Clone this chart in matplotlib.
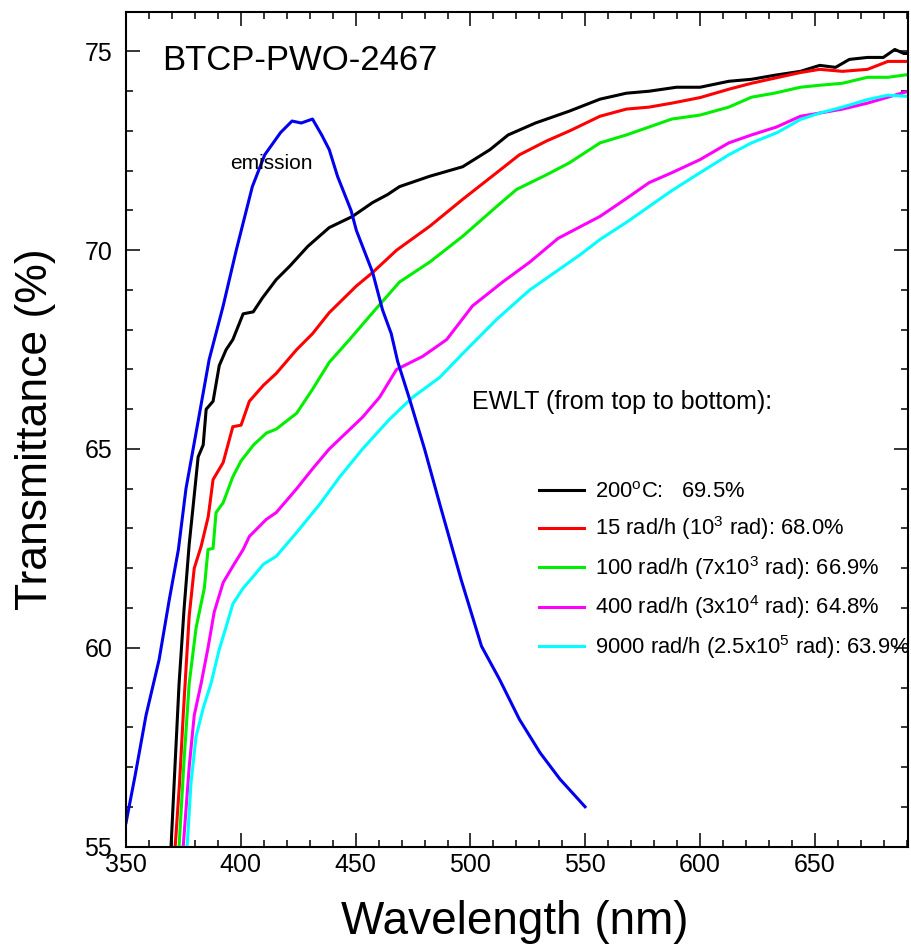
import matplotlib
matplotlib.use('Agg')
import matplotlib.pyplot as plt
from matplotlib.ticker import MultipleLocator

plt.rcParams['font.family'] = ['Liberation Sans', 'DejaVu Sans']
plt.rcParams['mathtext.fontset'] = 'custom'
plt.rcParams['mathtext.rm'] = 'Liberation Sans'
plt.rcParams['mathtext.it'] = 'Liberation Sans:italic'

# transmittance curves
wl_200c = [369.6, 371.3, 373.1, 375.3, 377.5, 379.2, 381.4, 383.6, 384.9, 387.9, 390.6, 393.6, 396.5,
           401.0, 405.4, 409.4, 415.4, 421.3, 429.2, 438.5, 448.6, 457.4, 463.9, 469.1, 482.2, 496.6,
           508.5, 516.4, 528.3, 543.1, 556.4, 567.9, 577.8, 589.7, 600.0, 612.5, 622.4, 632.3, 643.7,
           652.1, 659.0, 665.0, 672.9, 679.8, 684.8, 688.7, 690.7]
tr_200c = [55.0, 57.0, 59.1, 61.0, 62.6, 63.55, 64.8, 65.1, 66.0, 66.2, 67.1, 67.5, 67.75,
           68.4, 68.45, 68.8, 69.26, 69.6, 70.1, 70.57, 70.85, 71.2, 71.4, 71.6, 71.86, 72.1,
           72.53, 72.9, 73.2, 73.5, 73.8, 73.95, 74.0, 74.1, 74.1, 74.25, 74.3, 74.4, 74.5,
           74.65, 74.6, 74.8, 74.85, 74.85, 75.05, 74.95, 74.95]

wl_15 = [371.4, 373.3, 374.9, 377.5, 379.7, 382.7, 385.8, 387.9, 392.3, 396.5, 400.1, 403.7, 409.8,
         415.4, 424.3, 431.2, 438.5, 450.3, 457.4, 467.8, 482.2, 496.6, 511.4, 521.3, 533.2, 543.1,
         556.4, 567.9, 577.8, 587.7, 600.0, 612.5, 622.4, 630.2, 643.7, 652.1, 662.0, 672.9, 681.8, 690.7]
tr_15 = [55.0, 56.6, 58.3, 60.8, 62.0, 62.55, 63.3, 64.23, 64.66, 65.56, 65.6, 66.2, 66.6,
         66.9, 67.5, 67.9, 68.43, 69.1, 69.44, 70.0, 70.6, 71.28, 71.95, 72.4, 72.75, 73.0,
         73.37, 73.55, 73.6, 73.7, 73.84, 74.05, 74.2, 74.3, 74.47, 74.55, 74.5, 74.55, 74.75, 74.75]

wl_100 = [373.1, 375.3, 377.5, 380.5, 384.1, 385.7, 387.9, 389.2, 392.3, 396.5, 400.1, 405.5, 411.1,
          415.4, 424.3, 431.2, 438.5, 447.3, 457.4, 469.1, 482.2, 496.6, 511.4, 520.1, 533.2, 543.1,
          556.4, 567.9, 577.8, 587.7, 600.0, 612.5, 622.4, 632.3, 643.7, 652.1, 662.0, 672.9, 681.8, 690.7]
tr_100 = [55.0, 57.2, 59.1, 60.5, 61.5, 62.47, 62.5, 63.4, 63.65, 64.3, 64.7, 65.1, 65.4,
          65.5, 65.9, 66.5, 67.18, 67.75, 68.43, 69.2, 69.7, 70.35, 71.1, 71.53, 71.9, 72.2,
          72.7, 72.9, 73.1, 73.3, 73.4, 73.6, 73.85, 73.95, 74.1, 74.15, 74.2, 74.35, 74.35, 74.42]

wl_400 = [374.9, 377.5, 379.7, 382.7, 385.8, 388.4, 392.3, 396.5, 401.0, 403.7, 411.1, 415.4, 424.3,
          431.2, 438.5, 453.0, 460.4, 467.8, 479.2, 489.6, 500.9, 514.0, 525.8, 538.2, 548.1, 556.4,
          567.9, 577.8, 587.7, 600.0, 612.5, 622.4, 633.3, 643.7, 652.1, 662.0, 672.9, 681.8, 690.7]
tr_400 = [55.0, 57.0, 58.3, 59.1, 60.03, 60.9, 61.64, 62.05, 62.47, 62.8, 63.23, 63.4, 64.0,
          64.5, 65.0, 65.8, 66.3, 67.0, 67.33, 67.75, 68.6, 69.2, 69.7, 70.3, 70.6, 70.85,
          71.3, 71.7, 71.95, 72.28, 72.7, 72.9, 73.1, 73.37, 73.45, 73.55, 73.7, 73.85, 74.0]

wl_9000 = [376.6, 378.3, 380.5, 383.7, 387.0, 390.6, 393.6, 396.5, 401.0, 405.5, 409.8, 415.4, 424.3,
           434.2, 443.1, 453.0, 464.8, 474.8, 486.6, 496.6, 511.4, 525.8, 538.2, 548.1, 556.4, 567.9,
           577.8, 587.7, 600.0, 612.5, 622.4, 633.6, 643.7, 652.1, 662.0, 672.9, 681.8, 690.7]
tr_9000 = [55.0, 56.6, 57.77, 58.5, 59.1, 59.96, 60.53, 61.1, 61.5, 61.8, 62.1, 62.3, 62.9,
           63.6, 64.3, 65.0, 65.75, 66.3, 66.8, 67.4, 68.26, 69.0, 69.5, 69.9, 70.27, 70.7,
           71.1, 71.5, 71.95, 72.4, 72.7, 72.96, 73.29, 73.45, 73.6, 73.79, 73.9, 73.87]

# emission spectrum (arbitrary scale, drawn on the same axes)
wl_em = [350.0, 354.0, 358.7, 364.4, 368.8, 372.8, 376.1, 381.4, 386.2, 392.3, 398.0, 405.0, 410.4,
         417.3, 422.3, 426.3, 431.2, 435.2, 438.5, 442.1, 448.0, 450.3, 457.4, 461.7, 465.5, 468.3,
         473.5, 480.0, 486.7, 496.0, 504.8, 512.7, 521.3, 530.3, 538.9, 549.9]
em = [55.6, 56.8, 58.3, 59.7, 61.2, 62.47, 64.0, 65.7, 67.25, 68.6, 70.0, 71.6, 72.4,
      72.96, 73.25, 73.2, 73.3, 72.9, 72.53, 71.86, 71.0, 70.5, 69.44, 68.5, 67.9, 67.2,
      66.25, 65.0, 63.6, 61.7, 60.04, 59.2, 58.2, 57.36, 56.7, 56.0]

labels = [r'200$^{\mathrm{o}}$C:   69.5%',
          r'15 rad/h (10$^{3}$ rad): 68.0%',
          r'100 rad/h (7x10$^{3}$ rad): 66.9%',
          r'400 rad/h (3x10$^{4}$ rad): 64.8%',
          r'9000 rad/h (2.5x10$^{5}$ rad): 63.9%']
colors = ['#000000', '#ff0000', '#00ee00', '#ff00ff', '#00ffff']

fig = plt.figure(figsize=(9.12, 9.52), dpi=100)
ax = fig.add_axes([0.1382, 0.1108, 0.8578, 0.8769])

series = [(wl_200c, tr_200c), (wl_15, tr_15), (wl_100, tr_100), (wl_400, tr_400), (wl_9000, tr_9000)]
handles = []
for (x, y), c, lab in zip(series, colors, labels):
    h, = ax.plot(x, y, color=c, lw=2.2, label=lab, solid_joinstyle='round')
    handles.append(h)
ax.plot(wl_em, em, color='#0000ee', lw=2.2)

ax.set_xlim(350, 690.7)
ax.set_ylim(55, 76)
ax.xaxis.set_major_locator(MultipleLocator(50))
ax.xaxis.set_minor_locator(MultipleLocator(10))
ax.yaxis.set_major_locator(MultipleLocator(5))
ax.yaxis.set_minor_locator(MultipleLocator(1))
ax.tick_params(which='both', direction='in', top=True, right=True, width=1.1)
ax.tick_params(which='major', length=10, labelsize=18)
ax.tick_params(which='minor', length=5)
ax.tick_params(axis='x', which='major', pad=5)
ax.tick_params(axis='y', which='major', pad=10)
for s in ax.spines.values():
    s.set_linewidth(1.5)

ax.set_xlabel('Wavelength (nm)', fontsize=33)
ax.set_ylabel('Transmittance (%)', fontsize=32)
ax.xaxis.set_label_coords(0.497, -0.064)
ax.yaxis.set_label_coords(-0.09, 0.5)

ax.text(0.046, 0.942, 'BTCP-PWO-2467', transform=ax.transAxes, fontsize=25, va='center')
ax.text(0.133, 0.8176, 'emission', transform=ax.transAxes, fontsize=15, va='center')
ax.text(0.442, 0.5325, 'EWLT (from top to bottom):', transform=ax.transAxes, fontsize=18, va='center')

ax.legend(handles=handles, loc='upper left', bbox_to_anchor=(0.528, 0.4369), frameon=False,
          fontsize=15.8, handlelength=2.05, handletextpad=0.5, labelspacing=0.53,
          borderpad=0, borderaxespad=0)

fig.savefig('out.png', dpi=100)
